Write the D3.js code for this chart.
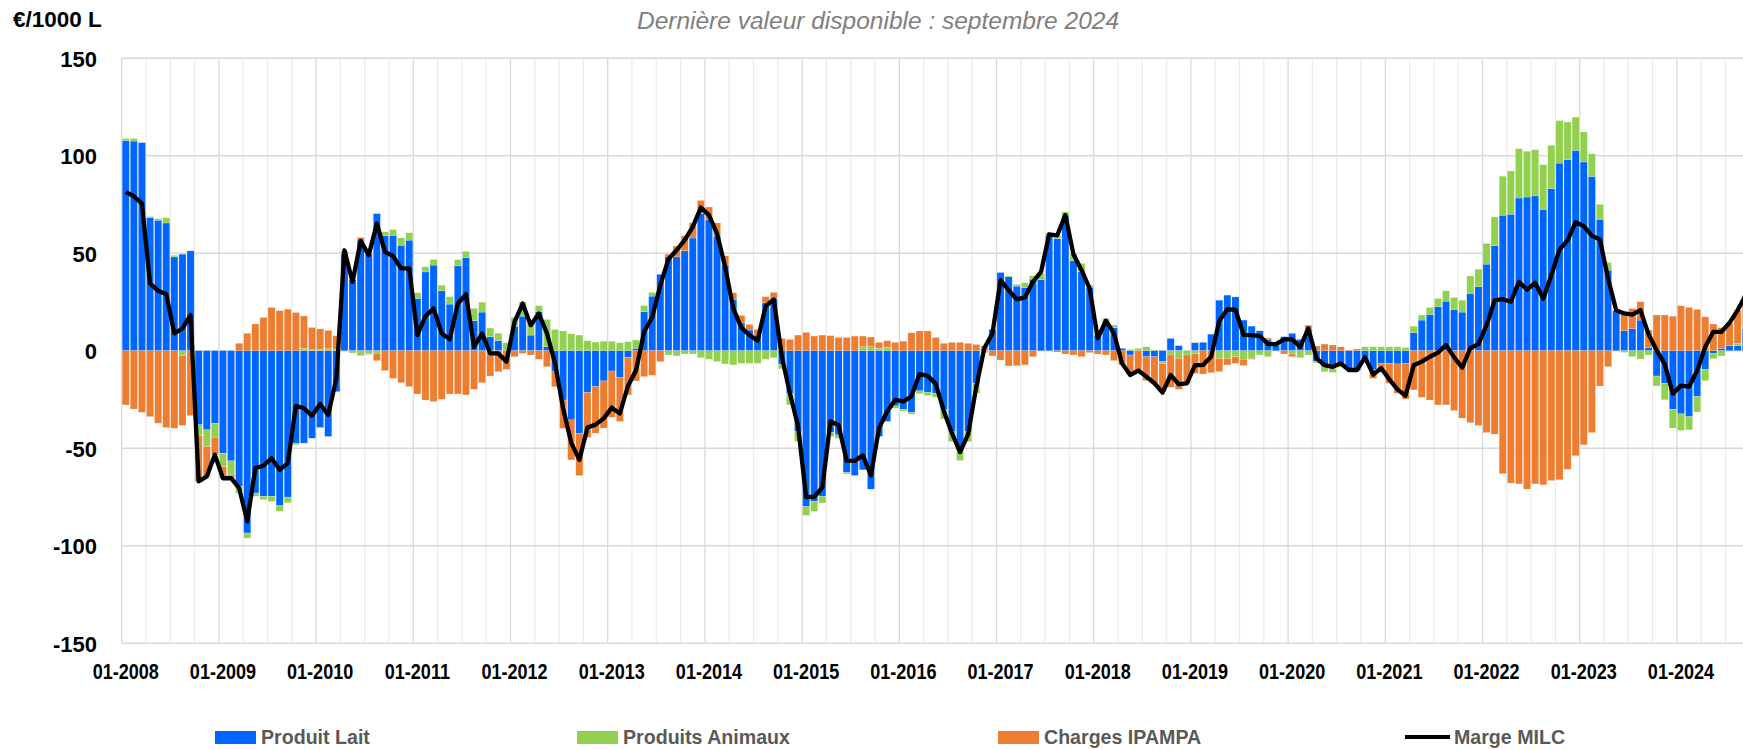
<!DOCTYPE html>
<html>
<head>
<meta charset="utf-8">
<script src="https://cdn.jsdelivr.net/npm/d3@7"></script>
<style>
  html, body { margin: 0; padding: 0; background: #fff; }
  svg { display: block; }
</style>
</head>
<body>
<svg id="chart"></svg>
<script>
// €/1000 L, monthly from 01-2008 to 09-2024
const produitLait = [
  107.8, 107.5, 106.7, 68.3, 66.9, 65.5, 48.1, 49.5, 51.2, -38, -40.6, -37.2,
  -52.6, -56.5, -69.6, -93.5, -73, -74.7, -74.7, -79.5, -75.1, -47.4, -47.4, -44.9,
  -39.4, -44, -21, 49.8, 36.5, 56.7, 49.5, 70.3, 59, 59.2, 54.1, 56.7,
  26.8, 40.4, 43.9, 30.7, 23.9, 43.5, 47.8, 15.4, 19.8, 7.2, 5.1, 0,
  12.3, 17.7, 8, 20, 2, -10.8, -25.3, -35.5, -42.3, -21.5, -18.4, -15.5,
  -10.4, -13.8, -3.4, 1.2, 20, 28, 39.2, 48.1, 48.1, 51.2, 57.8, 70.3,
  67.2, 58.7, 43.9, 26.3, 14.2, 10.6, 8, 24.6, 26.8, -7, -21.8, -41.5,
  -79.9, -77.3, -74.7, -42, -43.2, -62.5, -64, -61.1, -71, -44, -36.3, -28.3,
  -30, -31.6, -20.6, -21.5, -21.8, -30, -41.5, -50, -41.5, -16.7, -0.5, 10.9,
  40.1, 37.9, 33.1, 32.3, 36.7, 36.5, 59.2, 57.5, 69.5, 46.1, 40.4, 32.4,
  8, 14.3, 11.8, 1.2, -2.2, 0, -3.1, -3.1, -5.6, 6.3, 2.6, 0,
  4.1, 4.3, 8.5, 25.9, 28.5, 27.6, 15.7, 12.6, 10.2, 5.8, 2.9, 7.2,
  8.9, 5.8, 10.9, -5.5, -8.2, -9, -7.3, -9.9, -10.2, -5.5, -9.6, -6.5,
  -6.5, -6.8, -6.5, 9.2, 15.7, 18.6, 22.5, 25.4, 21.2, 19.8, 29.4, 32.8,
  44.4, 53.8, 69.5, 70, 78.3, 78.8, 79.4, 72.5, 83.1, 96.2, 98, 102.7,
  96.8, 89.4, 67.4, 41.3, 20.5, 10.2, 11.4, 15.7, 1.7, -13, -16.7, -30,
  -32.4, -33.8, -23.5, -9.6, -1.4, 1.2, 2.6, 2.5, 11.4
];

const produitsAnimaux = [
  1, 1.3, 0, 0.5, 0.8, 2.7, 0.8, -2.5, 0, -5.6, -8.5, -7.2,
  -6.8, -7.2, -3.4, -2.6, -1.7, -1.7, -2.6, -2.9, -2.9, -0.9, 1.2, 0.5,
  0.6, 1, 0.5, 0, -1.2, -2.6, -1.4, -1.3, 2, 2.9, 3.8, 3.8,
  2.9, 2.6, 2.9, 2.9, 3.8, 3.2, 3.2, 6.3, 5.1, 4.4, 3.9, 4.1,
  4.8, 7.3, 6.8, 3.1, 14, 10.9, 10.1, 8.7, 8, 5.1, 4.4, 4.9,
  4.9, 4.1, 4.6, 4.3, 3.1, 1.9, 0, -2.2, -2.7, -1.7, -1.7, -3.6,
  -4.4, -5.6, -6.8, -7.3, -6.5, -6.5, -6.5, -4.4, -3.6, -2.3, -6, -5.1,
  -4.6, -5.1, -3.4, -2, -1.7, -0.7, 0, 2, 2, 1.2, 1.7, -1.2,
  -0.9, -1, -1.5, -1.5, -2, -5, -5.1, -6.3, -5.1, -5.1, -0.5, 0,
  0, 0.5, 0.9, 2.6, 1.7, 3.1, 0.9, 1.7, 1.7, 3.8, 4.3, 1.2,
  0, 2.2, 1.4, 0, 0.7, 1.2, 2, 0.3, -0.9, -2.2, -3.9, -2.2,
  -1.4, 0, 0, -3.9, -3.9, -3.1, -4.4, -3.9, -2.2, -3.1, 0, 0,
  -1.7, -3.6, -2.2, -0.8, -2.6, -2.2, -1.2, 0, 0, 2, 2, 2,
  2, 2, 1.7, 3.4, 2.6, 3.6, 4.3, 5.3, 6.1, 6.1, 8.9, 9,
  10.6, 14.8, 20, 22.2, 25.3, 23.5, 23.7, 22.9, 22.2, 21.8, 19.3, 17.1,
  15.4, 11.6, 7.7, 3.9, 0, -0.9, -3.1, -4.3, -2.2, -5.1, -8.5, -9.7,
  -8.5, -6.8, -8, -5.8, -2.7, -2.7, 0, 1.2, 1
];

const chargesIpampa = [
  -27.8, -29.9, -31.6, -33.8, -37.2, -39.4, -39.8, -35.8, -33.3, -23.4, -15.4, -9,
  -6, -1.7, 3.8, 8.9, 13.7, 17, 22.2, 20.5, 21.3, 19.6, 16.6, 11.4,
  10.6, 9.4, 7.2, 1.3, 0, 1.4, -0.5, -3.8, -10.2, -14.2, -16.4, -18.4,
  -22.2, -25.3, -26.1, -24.9, -22.2, -22.2, -22.7, -19.8, -16.4, -13, -10.8, -9.6,
  -3.1, -1.4, -2.2, -4.4, -8.2, -7.7, -14.5, -20.5, -21.7, -23, -23.9, -24.2,
  -23.7, -22.5, -19.3, -15.5, -13.3, -12.6, -5.6, 1.4, 5.6, 7.7, 7.8, 6.8,
  6.5, 6.8, 4.8, 3.4, 3.9, 2.9, 2.9, 3.1, 3.1, 6.3, 5.8, 8,
  9.4, 7.5, 8, 7.7, 6.8, 6.8, 7.5, 5.5, 5, 3.1, 3.4, 4.3,
  4.9, 9.2, 10.1, 10.1, 6.8, 3.8, 4.3, 4.3, 3.8, 3.2, 2.4, -2.7,
  -4.8, -7.8, -7.7, -7.3, -3.1, 0, 0, -0.7, -1.7, -2.2, -3.1, -1,
  -1.7, -2.2, -5.1, -7.3, -10.2, -10.8, -12.3, -13.7, -14.5, -16.6, -15.9, -14.5,
  -10.2, -12, -11.3, -6.8, -3.4, -3.4, -3.2, -0.5, 0, 0.7, 0.5, -1.7,
  -1.4, 0, 2.2, 2.4, 3.4, 2.9, 2, 0.3, 0.9, 0, -4.6, -4.5,
  -10.2, -15, -18.3, -20.1, -23.9, -25.3, -27.8, -27.8, -30.7, -34.6, -36.9, -38.4,
  -42, -42.8, -63.1, -67.9, -68.3, -71, -68.3, -68.8, -66.6, -66.2, -60.8, -53.9,
  -48.3, -42, -18.1, -8.2, 0, 8.9, 10.2, 9.4, 8.9, 18.3, 18.3, 17.7,
  23, 22.2, 21.2, 17.4, 13.7, 10.6, 11.4, 17, 16
];

const margeMilc = [
  81.4, 79.2, 75.4, 34.5, 30.7, 29, 8.9, 11.4, 18.3, -67, -64.5, -53.4,
  -65.4, -65.4, -70.5, -87.5, -60.2, -59, -55.1, -61.1, -57.7, -28.3, -29.5, -33.4,
  -27.3, -32.9, -14.2, 51.5, 35.3, 56.3, 49, 65.2, 50.7, 48.5, 42.2, 42.2,
  8, 17.7, 21.7, 8.9, 5.8, 24.2, 29, 2, 8.9, -1.4, -1.4, -5.6,
  14.8, 24.2, 13.1, 19.1, 8.9, -6.5, -29.7, -47.3, -56, -39.4, -37.9, -34.8,
  -29.2, -32.2, -18.1, -10, 9.8, 17.3, 33.6, 47, 51.5, 56.7, 63.5, 73.4,
  69.5, 60, 43, 21.7, 11.8, 8, 5.1, 22.9, 26.3, -3, -22, -38.6,
  -75.1, -74.9, -70.1, -36.3, -38.1, -56.4, -56.5, -53.6, -64, -39.7, -31.2, -25.2,
  -26, -23.4, -12, -12.9, -17, -31, -42.3, -52, -42.8, -18.6, 1.4, 8.9,
  36.2, 31, 26.3, 27.3, 35.3, 40.4, 59.7, 59.2, 69.5, 49.5, 41.3, 31.9,
  6.3, 15.4, 8.9, -6.5, -12.5, -10.2, -13.3, -16.7, -21.5, -12.5, -17.2, -16.7,
  -7.5, -7.3, -3.1, 15.2, 21.2, 21.1, 8.1, 8, 7.5, 3.4, 3.4, 5.8,
  5.8, 2, 11.4, -3.9, -7.4, -8.3, -6.5, -9.9, -9.9, -3.4, -12.2, -9,
  -14.7, -19.8, -23.1, -7.5, -5.6, -3.1, -1, 2.9, -3.4, -8.7, 1.4, 3.4,
  13, 25.8, 26.4, 25.1, 35.3, 31.3, 34.8, 26.6, 38.7, 51.8, 56.5, 65.9,
  63.9, 59, 57, 37, 20.8, 19.1, 18.5, 20.8, 8.4, 0.2, -6.9, -22,
  -17.9, -18.4, -10.3, 2, 9.7, 9.7, 14.3, 20.8, 28.4
];

const yTicks = [-150, -100, -50, 0, 50, 100, 150];
const xTickLabels = [
  "01-2008", "01-2009", "01-2010", "01-2011", "01-2012", "01-2013", "01-2014", "01-2015", "01-2016",
  "01-2017", "01-2018", "01-2019", "01-2020", "01-2021", "01-2022", "01-2023", "01-2024"
];
const seriesNames = ["Produit Lait", "Produits Animaux", "Charges IPAMPA", "Marge MILC"];

const months = produitLait.map((d, i) => {
  const y = 2008 + Math.floor(i / 12), m = i % 12 + 1;
  return (m < 10 ? "0" : "") + m + "-" + y;
});

const table = months.map((m, i) => ({
  month: m,
  lait: produitLait[i],
  animaux: produitsAnimaux[i],
  ipampa: chargesIpampa[i],
  marge: margeMilc[i]
}));

const width = 1743, height = 750;
const colors = { lait: "#0066ff", animaux: "#92d050", ipampa: "#ed7d31", marge: "#000000" };
const boldFont = "'Liberation Sans', Arial, sans-serif";

const svg = d3.select("#chart")
  .attr("width", width)
  .attr("height", height)
  .attr("viewBox", `0 0 ${width} ${height}`);

const step = 8.1;
const x = d3.scaleBand()
  .domain(months)
  .range([121.7, 121.7 + months.length * step])
  .paddingInner(0.12)
  .paddingOuter(0.06);

const y = d3.scaleLinear()
  .domain([-150, 150])
  .range([643.2, 58.2]);

const bandStart = m => x(m) - x.step() * x.paddingOuter();

// grid
const grid = svg.append("g");
months.forEach((m, i) => {
  if (i % 3 !== 0) return;
  grid.append("line")
    .attr("x1", bandStart(m)).attr("x2", bandStart(m))
    .attr("y1", y(150)).attr("y2", y(-150))
    .attr("stroke", i % 12 === 0 ? "#d9d9d9" : "#ececec")
    .attr("stroke-width", 1.3);
});
grid.selectAll(".hgrid")
  .data(yTicks)
  .enter()
  .append("line")
    .attr("x1", 121.7).attr("x2", width)
    .attr("y1", d => y(d)).attr("y2", d => y(d))
    .attr("stroke", "#d9d9d9")
    .attr("stroke-width", 1.5);

// stacked bars, Excel style: positives up, negatives down, in series order
const keys = ["lait", "animaux", "ipampa"];
const stacked = d3.stack()
  .keys(keys)
  .offset(d3.stackOffsetDiverging)(table);

svg.append("g")
  .selectAll("g")
  .data(stacked)
  .enter()
  .append("g")
    .attr("fill", d => colors[d.key])
  .selectAll("rect")
  .data(d => d)
  .enter()
  .append("rect")
    .attr("x", d => x(d.data.month))
    .attr("width", x.bandwidth())
    .attr("y", d => y(Math.max(d[0], d[1])))
    .attr("height", d => Math.abs(y(d[0]) - y(d[1])))
    .attr("stroke", "#ffffff")
    .attr("stroke-opacity", 0.5)
    .attr("stroke-width", 0.4);

const line = d3.line()
  .x(d => x(d.month) + x.bandwidth() / 2)
  .y(d => y(d.marge));

svg.append("path")
  .datum(table)
  .attr("fill", "none")
  .attr("stroke", colors.marge)
  .attr("stroke-width", 4.3)
  .attr("stroke-linejoin", "round")
  .attr("d", line);

// axes
const yAxis = svg.append("g")
  .attr("transform", "translate(97,0)")
  .call(d3.axisLeft(y).tickValues(yTicks).tickSize(0).tickPadding(0).tickFormat(d => String(d)));
yAxis.select(".domain").remove();
yAxis.selectAll("text")
  .attr("font-family", boldFont)
  .attr("font-weight", "bold")
  .attr("font-size", 22)
  .attr("fill", "#000")
  .attr("dy", "0.36em");

const janMonths = months.filter((m, i) => i % 12 === 0);
const xAxis = svg.append("g")
  .attr("transform", "translate(0,671)")
  .call(d3.axisBottom(x).tickValues(janMonths).tickSize(0).tickPadding(0)
    .tickFormat((d, i) => xTickLabels[i]));
xAxis.select(".domain").remove();
xAxis.selectAll("text")
  .attr("font-family", boldFont)
  .attr("font-weight", "bold")
  .attr("font-size", 22)
  .attr("fill", "#000")
  .attr("y", 0)
  .attr("dy", "0.36em")
  .attr("transform", "scale(0.82,1)");

// titles
svg.append("text")
  .attr("x", 878)
  .attr("y", 29)
  .attr("text-anchor", "middle")
  .attr("font-family", "'Liberation Sans', Arial, sans-serif")
  .attr("font-style", "italic")
  .attr("font-size", 24.5)
  .attr("fill", "#808080")
  .text("Dernière valeur disponible : septembre 2024");

svg.append("text")
  .attr("x", 13)
  .attr("y", 27)
  .attr("font-family", boldFont)
  .attr("font-weight", "bold")
  .attr("font-size", 22.5)
  .attr("fill", "#000")
  .text("€/1000 L");

// legend
const legendItems = [
  { key: "lait", x: 215 },
  { key: "animaux", x: 577 },
  { key: "ipampa", x: 998 },
  { key: "marge", x: 1405 }
];
const legend = svg.append("g");
legendItems.forEach((item, i) => {
  if (item.key === "marge") {
    legend.append("line")
      .attr("x1", item.x).attr("x2", item.x + 45)
      .attr("y1", 737).attr("y2", 737)
      .attr("stroke", colors.marge)
      .attr("stroke-width", 4);
  } else {
    legend.append("rect")
      .attr("x", item.x).attr("y", 731)
      .attr("width", 41).attr("height", 13)
      .attr("fill", colors[item.key]);
  }
  legend.append("text")
    .attr("x", item.x + (item.key === "marge" ? 49 : 46))
    .attr("y", 744)
    .attr("font-family", boldFont)
    .attr("font-weight", "bold")
    .attr("font-size", 19.6)
    .attr("fill", "#595959")
    .text(seriesNames[i]);
});
</script>
</body>
</html>
